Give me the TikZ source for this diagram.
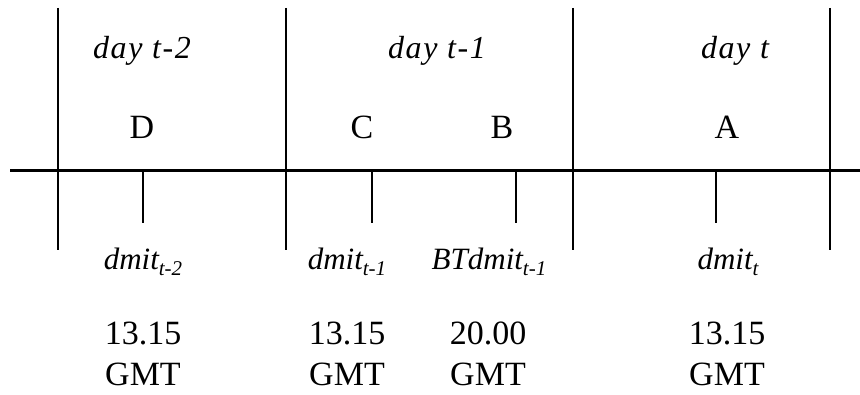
\documentclass[tikz,border=0pt]{standalone}
\usepackage{fontspec}
\setmainfont{Liberation Serif}
% lowered, smaller subscript set in the italic label font
\newcommand{\lowsub}[1]{\raisebox{-6pt}{\fontsize{21}{21}\selectfont #1}}
\begin{document}
\begin{tikzpicture}[x=1pt,y=-1pt,
  rule/.style={line width=2.8pt,line cap=butt},
  daylbl/.style={anchor=base,inner sep=0pt,font=\fontsize{32}{32}\selectfont\itshape\addfontfeature{LetterSpace=5}},
  pointlbl/.style={anchor=base,inner sep=0pt,font=\fontsize{34}{34}\selectfont},
  dmitlbl/.style={anchor=base,inner sep=0pt,font=\fontsize{31}{31}\selectfont\itshape},
  timelbl/.style={anchor=base,inner sep=0pt,align=center,font=\fontsize{34}{40}\selectfont}]
\useasboundingbox (0,0) rectangle (860,395);

% day boundaries
\foreach \n/\x in {d0/58,d1/286,d2/573,d3/830}{
  \coordinate (\n top) at (\x,8);
  \coordinate (\n bot) at (\x,250);
  \draw[rule] (\n top) -- (\n bot);
}

% time axis
\coordinate (axisL) at (10,170.5);
\coordinate (axisR) at (860,170.5);
\draw[rule] (axisL) -- (axisR);

% observation ticks
\foreach \n/\x in {tD/143,tC/372,tB/516,tA/716}{
  \coordinate (\n top) at (\x,170.5);
  \coordinate (\n bot) at (\x,223);
  \draw[rule] (\n top) -- (\n bot);
}

% day headings
\node[daylbl] (day2) at (142,59) {day t-2};
\node[daylbl] (day1) at (437,59) {day t-1};
\node[daylbl] (day0) at (735,59) {day t};

% points
\node[pointlbl] (D) at (142,139) {D};
\node[pointlbl] (C) at (362,139) {C};
\node[pointlbl] (B) at (502,139) {B};
\node[pointlbl] (A) at (727,139) {A};

% variable names
\node[dmitlbl] (vD) at (143,270) {dmit\lowsub{t-2}};
\node[dmitlbl] (vC) at (347,270) {dmit\lowsub{t-1}};
\node[dmitlbl] (vB) at (489,270) {BTdmit\lowsub{t-1}};
\node[dmitlbl] (vA) at (728,270) {dmit\lowsub{t}};

% times
\node[timelbl] (hD) at (143,345) {13.15};
\node[timelbl] (gD) at (143,385) {GMT};
\node[timelbl] (hC) at (347,345) {13.15};
\node[timelbl] (gC) at (347,385) {GMT};
\node[timelbl] (hB) at (488,345) {20.00};
\node[timelbl] (gB) at (488,385) {GMT};
\node[timelbl] (hA) at (727,345) {13.15};
\node[timelbl] (gA) at (727,385) {GMT};
\end{tikzpicture}
\end{document}
